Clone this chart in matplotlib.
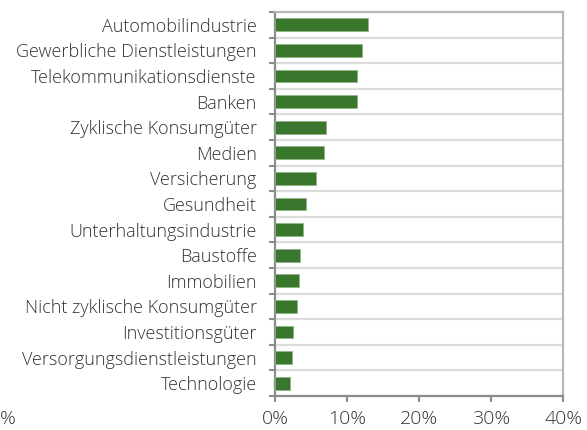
import matplotlib
matplotlib.use("agg")
import matplotlib.pyplot as plt
import numpy as np

# sector names, top to bottom, and their share in percent
sectors = [
    "Automobilindustrie",
    "Gewerbliche Dienstleistungen",
    "Telekommunikationsdienste",
    "Banken",
    "Zyklische Konsumgüter",
    "Medien",
    "Versicherung",
    "Gesundheit",
    "Unterhaltungsindustrie",
    "Baustoffe",
    "Immobilien",
    "Nicht zyklische Konsumgüter",
    "Investitionsgüter",
    "Versorgungsdienstleistungen",
    "Technologie",
]
values = [12.9, 12.0, 11.4, 11.3, 7.1, 6.7, 5.7, 4.3, 3.8, 3.4, 3.3, 3.0, 2.5, 2.3, 2.0]
xticks = [0, 10, 20, 30, 40]
xticklabels = ["0%", "10%", "20%", "30%", "40%"]

plt.rcParams["font.family"] = ["Open Sans", "DejaVu Sans"]
text_color = "#333333"

fig = plt.figure(figsize=(5.87, 4.30), dpi=100)
ax = fig.add_axes([275.3 / 587, 34 / 430, 288 / 587, 384 / 430])

y = np.arange(len(sectors))
ax.barh(y, values, height=0.5, color="#3a772c", edgecolor="#8fb585",
        linewidth=0.6, zorder=3)

ax.set_xlim(0, 40)
ax.set_ylim(len(sectors) - 0.5, -0.5)

# light separators between categories
for b in np.arange(-0.5, len(sectors), 1.0):
    ax.axhline(b, color="#dcdcdc", lw=1.6, zorder=1)

ax.set_xticks(xticks)
ax.set_xticklabels(xticklabels, fontsize=14, color=text_color, fontweight="light")
ax.set_yticks(y)
ax.set_yticklabels(sectors, fontsize=13, color=text_color, fontweight="light")
ax.set_yticks(np.arange(-0.5, len(sectors), 1.0), minor=True)

ax.tick_params(axis="y", which="major", length=0, pad=13.4)
ax.tick_params(axis="y", which="minor", length=4, width=1.5, color="#8c8c8c")
ax.tick_params(axis="x", which="major", length=4, width=1.5, color="#8c8c8c", pad=6)

for side in ["left", "bottom"]:
    ax.spines[side].set_color("#8c8c8c")
    ax.spines[side].set_linewidth(1.6)
for side in ["top", "right"]:
    ax.spines[side].set_color("#b4b8bc")
    ax.spines[side].set_linewidth(1.6)

# leftover label from a neighbouring panel at the lower left edge
fig.text(0.0, 1 - 419 / 430, "%", ha="left", va="center",
         fontsize=14, color=text_color, fontweight="light")

fig.savefig("out.png", dpi=100)
